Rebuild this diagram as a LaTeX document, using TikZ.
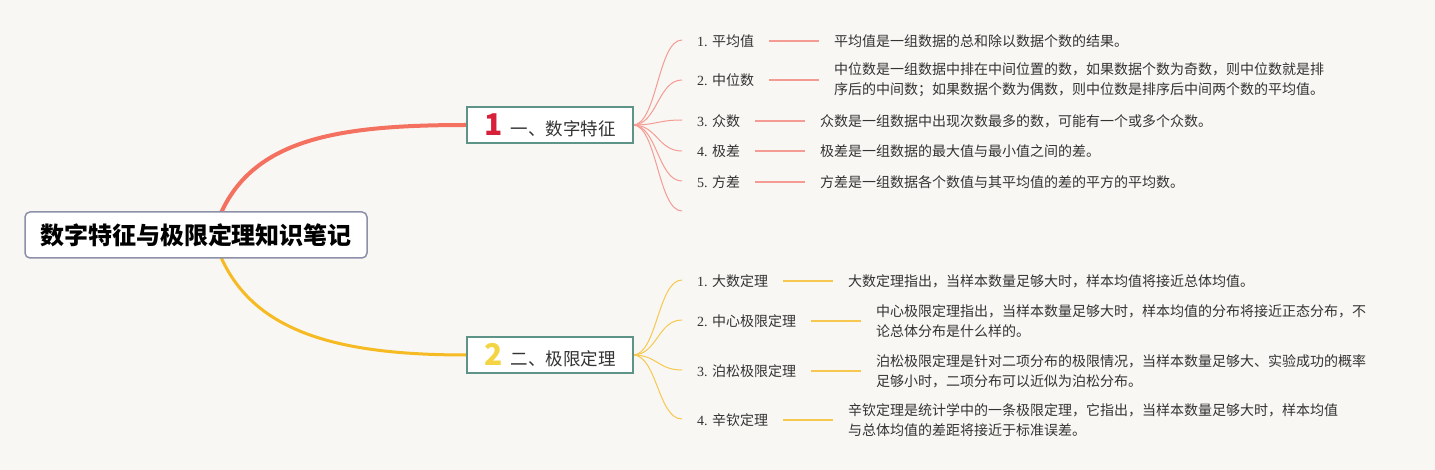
\documentclass[tikz,border=0pt]{standalone}
\usepackage{fontspec}
\setmainfont{Liberation Serif}
\newfontfamily\cjk{Noto Sans CJK SC}
\definecolor{bgcol}{HTML}{F8F7F4}
\definecolor{mainred}{HTML}{F4705F}
\definecolor{subred}{HTML}{F49C93}
\definecolor{mainyel}{HTML}{F6BA22}
\definecolor{subyel}{HTML}{F7C850}
\definecolor{tealb}{HTML}{5E9488}
\definecolor{rootb}{HTML}{8C90A8}
\definecolor{numred}{HTML}{D7203A}
\definecolor{numyel}{HTML}{F5D444}
\definecolor{txt}{HTML}{333333}
\pgfdeclarelayer{bg}
\pgfsetlayers{bg,main}
\begin{document}
\begin{tikzpicture}[x=1pt,y=-1pt,
  every node/.style={inner sep=0pt, outer sep=0pt},
  rootbox/.style={draw=rootb, line width=1.5pt, rounded corners=5pt, fill=white,
    minimum width=342pt, minimum height=46pt, text=black,
    font=\cjk\bfseries\fontsize{24}{24}\selectfont},
  branchbox/.style={draw=tealb, line width=1.5pt, fill=white,
    minimum width=166pt, minimum height=36pt, text=txt,
    font=\cjk\fontsize{17.5}{17.5}\selectfont},
  lab/.style={anchor=west, text=txt, font=\fontsize{14}{16}\selectfont},
  desc/.style={anchor=west, align=left, text=txt, font=\cjk\fontsize{14}{20}\selectfont},
  redfan/.style={draw=subred, line width=1pt},
  yelfan/.style={draw=subyel, line width=1pt},
  redtie/.style={draw=subred, line width=1.5pt},
  yeltie/.style={draw=subyel, line width=1.5pt}
]
\newcommand{\bignum}[2]{\textcolor{#1}{\fontsize{30}{30}\selectfont\bfseries #2}\hspace{8pt}}
\useasboundingbox (0,0) rectangle (1435,470);

% root and branches
\node[rootbox] (root) at (196,235) {数字特征与极限定理知识笔记};
\node[branchbox] (b1) at (550,125) {\bignum{numred}{1}一、数字特征};
\node[branchbox] (b2) at (550,355) {\bignum{numyel}{2}二、极限定理};

% fan end points
\coordinate (e11) at (682,40);
\coordinate (e12) at (682,80);
\coordinate (e13) at (682,120);
\coordinate (e14) at (682,151);
\coordinate (e15) at (682,181);
\coordinate (e16) at (682,211);
\coordinate (e21) at (682,280);
\coordinate (e22) at (682,320);
\coordinate (e23) at (682,370);
\coordinate (e24) at (682,419);

% labels (branch 1)
\node[lab] (l11) at (697,41)  {1. {\cjk 平均值}};
\node[lab] (l12) at (697,80)  {2. {\cjk 中位数}};
\node[lab] (l13) at (697,121) {3. {\cjk 众数}};
\node[lab] (l14) at (697,151) {4. {\cjk 极差}};
\node[lab] (l15) at (697,182) {5. {\cjk 方差}};
% labels (branch 2)
\node[lab] (l21) at (697,281) {1. {\cjk 大数定理}};
\node[lab] (l22) at (697,321) {2. {\cjk 中心极限定理}};
\node[lab] (l23) at (697,371) {3. {\cjk 泊松极限定理}};
\node[lab] (l24) at (697,420) {4. {\cjk 辛钦定理}};

% descriptions
\node[desc] (d11) at ([xshift=80pt]l11.east) {平均值是一组数据的总和除以数据个数的结果。};
\node[desc] (d12) at ([xshift=80pt]l12.east) {中位数是一组数据中排在中间位置的数，如果数据个数为奇数，则中位数就是排\\序后的中间数；如果数据个数为偶数，则中位数是排序后中间两个数的平均值。};
\node[desc] (d13) at ([xshift=80pt]l13.east) {众数是一组数据中出现次数最多的数，可能有一个或多个众数。};
\node[desc] (d14) at ([xshift=80pt]l14.east) {极差是一组数据的最大值与最小值之间的差。};
\node[desc] (d15) at ([xshift=80pt]l15.east) {方差是一组数据各个数值与其平均值的差的平方的平均数。};
\node[desc] (d21) at ([xshift=80pt]l21.east) {大数定理指出，当样本数量足够大时，样本均值将接近总体均值。};
\node[desc] (d22) at ([xshift=80pt]l22.east) {中心极限定理指出，当样本数量足够大时，样本均值的分布将接近正态分布，不\\论总体分布是什么样的。};
\node[desc] (d23) at ([xshift=80pt]l23.east) {泊松极限定理是针对二项分布的极限情况，当样本数量足够大、实验成功的概率\\足够小时，二项分布可以近似为泊松分布。};
\node[desc] (d24) at ([xshift=80pt]l24.east) {辛钦定理是统计学中的一条极限定理，它指出，当样本数量足够大时，样本均值\\与总体均值的差距将接近于标准误差。};

% ties label -> description
\foreach \i in {11,12,13,14,15} {
  \draw[redtie] ([xshift=15pt]l\i.east) -- ([xshift=-15pt]d\i.west);
}
\foreach \i in {21,22,23,24} {
  \draw[yeltie] ([xshift=15pt]l\i.east) -- ([xshift=-15pt]d\i.west);
}

\begin{pgfonlayer}{bg}
  \fill[bgcol] (0,0) rectangle (1435,470);
  \coordinate (rs) at ([xshift=17pt]root.center);
  \draw[mainred, line width=4pt] (rs) .. controls (240,140) and (330,125) .. (b1.west);
  \draw[mainyel, line width=3pt] (rs) .. controls (240,330) and (330,355) .. (b2.west);
  \foreach \i in {11,12,13,14,15,16} {
    \draw[redfan] (b1.east) .. controls +(24,0) and +(-24,0) .. (e\i);
  }
  \foreach \i in {21,22,23,24} {
    \draw[yelfan] (b2.east) .. controls +(24,0) and +(-24,0) .. (e\i);
  }
\end{pgfonlayer}
\end{tikzpicture}
\end{document}
